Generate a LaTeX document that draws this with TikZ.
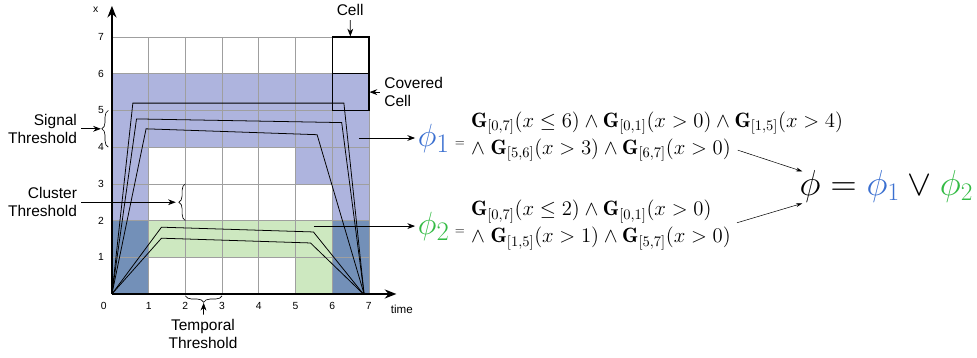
\RequirePackage{fix-cm}
\documentclass[tikz,border=0pt]{standalone}
\usepackage{amsmath,amssymb}
\usepackage{fontspec}
\setsansfont{Liberation Sans}
\usepackage{xcolor}
\usepackage{tikz}
\usetikzlibrary{arrows.meta,positioning,calc,decorations.pathreplacing}
\definecolor{coverblue}{RGB}{174, 180, 222}
\definecolor{overlapblue}{RGB}{115, 144, 184}
\definecolor{covergreen}{RGB}{205, 232, 192}
\definecolor{phiblue}{RGB}{58, 111, 208}
\definecolor{phigreen}{RGB}{51, 187, 68}

\begin{document}
\begin{tikzpicture}[every node/.style={font=\sffamily},
    lbl/.style={font=\sffamily\fontsize{12}{14}\selectfont, align=right},
    tick/.style={font=\sffamily\footnotesize},
    trace/.style={black, line width=0.6pt},
    pointer/.style={-{Stealth[length=6pt, width=4.5pt]}, line width=0.6pt},
    thinptr/.style={-{Stealth[length=5pt, width=3pt]}, line width=0.4pt},
    bracket/.style={decorate, decoration={brace, amplitude=5pt}, line width=0.5pt},
    formula/.style={font=\fontsize{16.1}{21}\selectfont, align=left, anchor=west},
    cellbox/.style={draw, line width=1pt, minimum size=1cm, inner sep=0pt}]
    \useasboundingbox (-3.05, -1.74) rectangle (23.57, 8.01);

    % Covered cells of phi_1 and phi_2
    \fill[coverblue] (0,0) -- (1,0) -- (1,4) -- (5,4) -- (5,3) -- (6,3) -- (6,0) -- (7,0) -- (7,6) -- (0,6) -- cycle;
    \fill[covergreen] (1,1) -- (5,1) -- (5,0) -- (6,0) -- (6,2) -- (1,2) -- cycle;
    \fill[overlapblue] (0,0) rectangle (1,2);
    \fill[overlapblue] (6,0) rectangle (7,2);
    \draw[gray!75, line width=0.5pt] (0,0) grid (7,7);

    % Cell and covered cell
    \node[cellbox] (cell) at (6.5, 6.5) {};
    \node[cellbox] (covcell) at (6.5, 5.5) {};

    % Axes
    \coordinate (O) at (0,0);
    \node[tick] (xlab) at (-0.44, 7.74) {x};
    \node[font=\sffamily\small] (timelab) at (7.9, -0.42) {time};
    \draw[-{Stealth[length=9pt, width=7pt]}, line width=1.4pt] (O) -- (0, 7.85);
    \draw[-{Stealth[length=9pt, width=7pt]}, line width=1.4pt] (O) -- (7.75, 0);
    \node[tick] (xt0) at (-0.22, -0.33) {0};
    \foreach \i in {1,...,7} {
        \node[tick] (xt\i) at (\i, -0.33) {\i};
        \node[tick] (yt\i) at (-0.3, \i) {\i};
    }

    % Signals
    \draw[trace] (O) -- (0.57, 5.2) -- (6.32, 5.2) -- (6.87, 0);
    \draw[trace] (O) -- (0.67, 4.77) -- (6.26, 4.67) -- (6.87, 0);
    \draw[trace] (O) -- (0.93, 4.5) -- (5.59, 4.34) -- (6.87, 0);
    \draw[trace] (O) -- (1.35, 1.82) -- (5.49, 1.69) -- (6.85, 0);
    \draw[trace] (O) -- (1.35, 1.52) -- (5.41, 1.39) -- (6.85, 0);

    % Thresholds
    \draw[bracket] (-0.1, 4) -- (-0.1, 5);
    \draw[bracket] (2.0, 2) -- (2.0, 3);
    \draw[bracket] (3, -0.05) -- (2, -0.05);
    \coordinate (sigtip) at (-0.3, 4.5);
    \coordinate (clutip) at (1.74, 2.5);
    \coordinate (temptip) at (2.5, -0.24);
    \node[lbl, anchor=east] (sigtxt) at (-0.83, 4.5) {Signal\\Threshold};
    \node[lbl, anchor=east] (clutxt) at (-0.83, 2.5) {Cluster\\Threshold};
    \node[lbl, align=center] (temptxt) at (2.48, -1.09) {Temporal\\Threshold};
    \node[lbl] (celltxt) at (6.49, 7.74) {Cell};
    \node[lbl, align=left, anchor=west] (covtxt) at (7.3, 5.5) {Covered\\Cell};

    % Formulas
    \coordinate (phi1src) at (6.73, 4.25);
    \coordinate (phi2src) at (5.5, 1.85);
    \node[anchor=west, inner sep=2pt, font=\Huge] (phione) at (8.26, 4.25) {$\color{phiblue}\phi_1$\,\normalsize$=$};
    \node[anchor=west, inner sep=2pt, font=\Huge] (phitwo) at (8.26, 1.85) {$\color{phigreen}\phi_2$\,\normalsize$=$};
    \node[formula] (f1) at (9.66, 4.29) {$\mathbf{G}_{[0,7]}(x\le 6)\land\mathbf{G}_{[0,1]}(x>0)\land\mathbf{G}_{[1,5]}(x>4)$\\ $\land\;\mathbf{G}_{[5,6]}(x>3)\land\mathbf{G}_{[6,7]}(x>0)$};
    \node[formula] (f2) at (9.66, 1.88) {$\mathbf{G}_{[0,7]}(x\le 2)\land\mathbf{G}_{[0,1]}(x>0)$\\ $\land\;\mathbf{G}_{[1,5]}(x>1)\land\mathbf{G}_{[5,7]}(x>0)$};
    \node[font=\fontsize{28}{32}\selectfont] (phiall) at (21.1, 2.94) {$\phi = {\color{phiblue}\phi_1} \lor {\color{phigreen}\phi_2}$};
    \coordinate (f1out) at (17.05, 3.92);
    \coordinate (f2out) at (17.03, 1.94);

    % Connectors
    \draw[pointer] (sigtxt) -- (sigtip);
    \draw[pointer] (clutxt) -- (clutip);
    \draw[pointer] (temptxt) -- (temptip);
    \draw[pointer] (celltxt) -- (cell);
    \draw[pointer] (covtxt) -- (covcell);
    \draw[pointer] (phi1src) -- (phione.west);
    \draw[pointer] (phi2src) -- (phitwo.west);
    \draw[thinptr] (f1out) -- ($(phiall.west)+(0.2, 0.4)$);
    \draw[thinptr] (f2out) -- ($(phiall.west)+(0.2, -0.47)$);
\end{tikzpicture}
\end{document}
